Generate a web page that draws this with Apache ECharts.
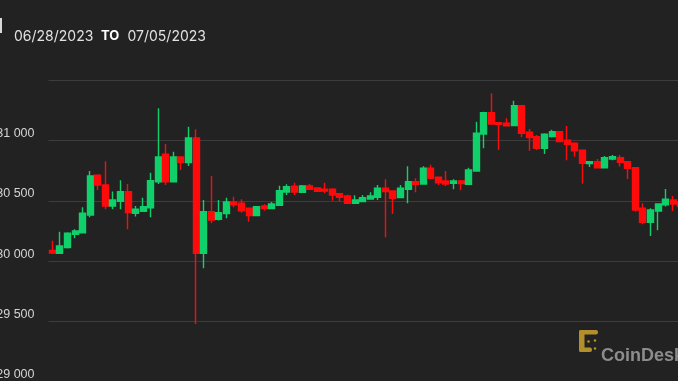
<!DOCTYPE html>
<html>
<head>
<meta charset="utf-8">
<script src="https://cdn.jsdelivr.net/npm/echarts@6/dist/echarts.min.js"></script>
<style>
html,body{margin:0;padding:0;background:#222222;}
#chart{width:678px;height:381px;}
</style>
</head>
<body>
<div id="chart"></div>
<script>
// 2-hour candles, 06/28/2023 to 07/05/2023
const days = ['06/28','06/29','06/30','07/01','07/02','07/03','07/04'];
const hours = ['00:00','02:00','04:00','06:00','08:00','10:00','12:00','14:00','16:00','18:00','20:00','22:00'];
const categories = days.flatMap(d => hours.map(h => d + ' ' + h));

const openVals = [30089,30066,30112,30223,30236,30383,30711,30631,30457,30496,
30576,30397,30413,30443,30658,30885,30658,30863,30816,31020,
30066,30410,30347,30394,30490,30480,30438,30377,30457,30435,
30463,30573,30620,30571,30623,30606,30596,30596,30559,30540,
30480,30493,30515,30529,30604,30581,30526,30596,30658,30639,
30769,30695,30664,30645,30664,30637,30747,31053,31230,31147,
31142,31122,31288,31067,31031,30935,31031,31073,31001,30976,
30918,30808,30824,30774,30846,30857,30824,30774,30438,30322,
30416,30466,30507,30493];
const closeVals = [30068,30126,30231,30250,30397,30706,30631,30457,30507,30576,
30402,30430,30451,30667,30863,30658,30863,30816,31020,30066,
30410,30341,30402,30490,30466,30418,30377,30451,30435,30474,
30584,30617,30573,30623,30596,30579,30581,30548,30529,30480,
30507,30526,30540,30604,30576,30521,30604,30658,30637,30769,
30687,30650,30639,30664,30642,30755,31059,31230,31136,31134,
31120,31288,31059,31023,30935,31051,31073,30990,30968,30913,
30811,30824,30774,30857,30865,30819,30769,30424,30322,30424,
30474,30513,30474,30452];
const lowVals = [30060,30060,30105,30190,30231,30364,30590,30430,30430,30430,
30264,30369,30408,30364,30639,30631,30658,30755,30788,29480,
29941,30314,30336,30355,30447,30402,30327,30375,30418,30435,
30463,30548,30548,30565,30590,30573,30562,30501,30493,30478,
30478,30490,30513,30507,30198,30391,30521,30480,30571,30637,
30681,30631,30623,30596,30587,30637,30747,30935,31136,30921,
31120,31122,31026,30915,30921,30888,31023,30988,30836,30865,
30642,30780,30774,30774,30836,30783,30681,30410,30306,30209,
30256,30452,30416,30430];
const highVals = [30170,30244,30240,30264,30447,30747,30715,30827,30576,30670,
30639,30457,30526,30733,31266,30971,30907,30863,31114,31092,
30507,30706,30507,30526,30534,30513,30438,30455,30471,30490,
30625,30637,30650,30630,30639,30612,30650,30604,30562,30550,
30546,30548,30571,30631,30678,30583,30631,30786,30687,30786,
30799,30697,30747,30678,30673,30774,31155,31238,31390,31147,
31183,31329,31290,31095,31045,31059,31089,31075,31120,30985,
30920,30826,30846,30871,30880,30880,30830,30776,30480,30438,
30476,30598,30540,30515];

const yTicks = [29000, 29500, 30000, 30500, 31000, 31500];
const hiddenTick = 31500;
const titleFrom = '06/28/2023';
const titleTo = '07/05/2023';
const titleSep = 'TO';
const brand = 'CoinDesk';

const candleData = openVals.map((o, i) => [o, closeVals[i], lowVals[i], highVals[i]]);

const chart = echarts.init(document.getElementById('chart'), null, {renderer: 'canvas'});
const GREEN = '#0fd06a', RED = '#ff0a0a', GOLD = '#b38f2c';

chart.setOption({
  animation: false,
  backgroundColor: '#222222',
  grid: {left: 48.5, top: 80, width: 636, height: 302, containLabel: false, outerBoundsMode: 'none'},
  xAxis: {
    type: 'category', data: categories, boundaryGap: true,
    axisLine: {show: false}, axisTick: {show: false}, axisLabel: {show: false}, splitLine: {show: false}
  },
  yAxis: {
    type: 'value', min: yTicks[0], max: yTicks[yTicks.length - 1], interval: 500,
    axisLine: {show: false}, axisTick: {show: false},
    splitLine: {show: true, lineStyle: {color: '#3d3d3d', width: 1}},
    axisLabel: {
      margin: 14, color: '#d4d4d4', fontFamily: 'Liberation Sans', fontSize: 12.5,
      verticalAlign: 'bottom', lineHeight: 14,
      formatter: v => v === hiddenTick ? '' : String(v).replace(/\B(?=(\d{3})+(?!\d))/g, ' ')
    }
  },
  series: [{
    type: 'candlestick', data: candleData, barWidth: 6.5,
    itemStyle: {color: GREEN, color0: RED, borderColor: GREEN, borderColor0: RED, borderWidth: 1.4}
  }],
  graphic: [
    {type: 'rect', shape: {x: 0, y: 18, width: 2, height: 15}, style: {fill: '#d8d8d8'}},
    {type: 'text', x: 14, y: 30, style: {text: titleFrom, fill: '#e2e2e2', font: '14px Inter', textVerticalAlign: 'alphabetic'}},
    {type: 'text', x: 101, y: 30, style: {text: titleSep, fill: '#ffffff', font: 'bold 13px Inter', textVerticalAlign: 'alphabetic'}},
    {type: 'text', x: 127.5, y: 30, style: {text: titleTo, fill: '#e2e2e2', font: '14px Inter', textVerticalAlign: 'alphabetic'}},
    {type: 'rect', shape: {x: 579, y: 330, width: 19, height: 4.5, r: 2}, style: {fill: GOLD}},
    {type: 'rect', shape: {x: 579, y: 330, width: 5.5, height: 22, r: 2}, style: {fill: GOLD}},
    {type: 'rect', shape: {x: 579, y: 347.5, width: 13, height: 4.5, r: 2}, style: {fill: GOLD}},
    {type: 'circle', shape: {cx: 588.5, cy: 341.5, r: 1.3}, style: {fill: GOLD}},
    {type: 'circle', shape: {cx: 595, cy: 340.5, r: 1.3}, style: {fill: GOLD}},
    {type: 'circle', shape: {cx: 595, cy: 348.5, r: 1.3}, style: {fill: GOLD}},
    {type: 'text', x: 601, y: 347, style: {text: brand, fill: '#8c8c8c', font: 'bold 18px "Liberation Sans"', textVerticalAlign: 'alphabetic'}}
  ]
});
</script>
</body>
</html>
